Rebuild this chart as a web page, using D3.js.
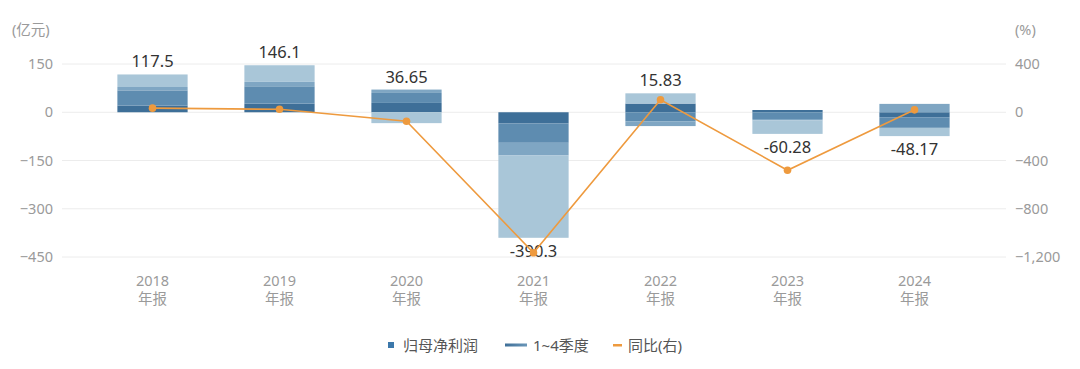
<!DOCTYPE html>
<html><head><meta charset="utf-8">
<script src="https://cdn.jsdelivr.net/npm/d3@7"></script>
<style>
html,body{margin:0;padding:0;background:#fff;}
svg{display:block;font-family:"Noto Sans","Noto Sans CJK SC",sans-serif;}
</style></head>
<body><svg id="c" width="1080" height="369"></svg>
<script>
const years = ["2018","2019","2020","2021","2022","2023","2024"];
const periodLabel = "年报";
const q1 = [21, 27, 29, -35, 27, 7, -15.5];
const q2 = [47, 53.7, 31, -60, -28, -21, -33];
const q3 = [10.5, 13.7, 10.5, -39.4, -15, -4.5, 26];
const q4 = [39, 51.7, -33.85, -255.9, 31.83, -41.78, -25.67];
const totals = [117.5, 146.1, 36.65, -390.3, 15.83, -60.28, -48.17];
const totalLabels = ["117.5","146.1","36.65","-390.3","15.83","-60.28","-48.17"];
const yoy = [33.8, 24.3, -74.9, -1165, 104.1, -480.8, 20.1];
const leftTicks = [150, 0, -150, -300, -450];
const rightTicks = [400, 0, -400, -800, -1200];
const quarterColors = ["#3e6f98", "#5e8cb0", "#7fa6c3", "#a9c6d8"];
const lineColor = "#ee9a3e";

const svg = d3.select("#c");
const x = d3.scaleBand().domain(years).range([89, 978]).paddingInner(0.447).paddingOuter(0.2235);
const y = d3.scaleLinear().domain([-450, 150]).range([257, 64]);
const y2 = d3.scaleLinear().domain([-1200, 400]).range([257, 64]);

// grid
svg.append("g").selectAll("line").data(leftTicks).join("line")
  .attr("x1", 62).attr("x2", 1006)
  .attr("y1", d => y(d)).attr("y2", d => y(d))
  .attr("stroke", "#ececec").attr("stroke-width", 1);

// left axis
const gl = svg.append("g").attr("transform", "translate(53,0)")
  .call(d3.axisLeft(y).tickValues(leftTicks).tickSize(0).tickPadding(0).tickFormat(d3.format("d")));
gl.select(".domain").remove();
gl.selectAll("text").attr("fill", "#9a9a9a").style("font-size", "14.5px")
  .style("font-family", '"Noto Sans","Noto Sans CJK SC",sans-serif');

const gr = svg.append("g").attr("transform", "translate(1015,0)")
  .call(d3.axisRight(y2).tickValues(rightTicks).tickSize(0).tickPadding(0).tickFormat(d3.format(",")));
gr.select(".domain").remove();
gr.selectAll("text").attr("fill", "#9a9a9a").style("font-size", "14.5px")
  .style("font-family", '"Noto Sans","Noto Sans CJK SC",sans-serif');

svg.append("text").attr("x", 12).attr("y", 35).attr("fill", "#9a9a9a")
  .style("font-size", "14.5px").text("(亿元)");
svg.append("text").attr("x", 1015).attr("y", 35).attr("fill", "#9a9a9a")
  .style("font-size", "14.5px").text("(%)");

// x axis labels
const gx = svg.append("g").attr("transform", "translate(0,279)")
  .call(d3.axisBottom(x).tickSize(0).tickPadding(0));
gx.select(".domain").remove();
gx.selectAll("text").attr("fill", "#9a9a9a").style("font-size", "14.5px")
  .style("font-family", '"Noto Sans","Noto Sans CJK SC",sans-serif')
  .attr("dy", "0.5em")
  .each(function(){
    const t = d3.select(this); const yr = t.text(); t.text(null);
    t.append("tspan").attr("x", 0).text(yr);
    t.append("tspan").attr("x", 0).attr("dy", "1.25em").text(periodLabel);
  });

// stacked bars
const rows = years.map((yr, i) => ({year: yr, q1: q1[i], q2: q2[i], q3: q3[i], q4: q4[i]}));
const stack = d3.stack().keys(["q1","q2","q3","q4"]).offset(d3.stackOffsetDiverging);
const series = stack(rows);
svg.append("g").selectAll("g").data(series).join("g")
  .attr("fill", (d, i) => quarterColors[i])
  .selectAll("rect").data(d => d).join("rect")
  .attr("x", d => x(d.data.year))
  .attr("width", x.bandwidth())
  .attr("y", d => y(Math.max(d[0], d[1])))
  .attr("height", d => Math.abs(y(d[0]) - y(d[1])));

// value labels
const extents = rows.map(r => {
  const v = [r.q1, r.q2, r.q3, r.q4];
  return {pos: d3.sum(v.filter(a => a > 0)), neg: d3.sum(v.filter(a => a < 0))};
});
svg.append("g").selectAll("text").data(years).join("text")
  .attr("x", d => x(d) + x.bandwidth() / 2)
  .attr("y", (d, i) => totals[i] >= 0 ? y(extents[i].pos) - 7 : y(extents[i].neg) + 19)
  .attr("text-anchor", "middle").attr("fill", "#333").style("font-size", "16.5px")
  .text((d, i) => totalLabels[i]);

// yoy line
const line = d3.line().x((d, i) => x(years[i]) + x.bandwidth() / 2).y(d => y2(d));
svg.append("path").datum(yoy).attr("d", line).attr("fill", "none")
  .attr("stroke", lineColor).attr("stroke-width", 1.6);
svg.append("g").selectAll("circle").data(yoy).join("circle")
  .attr("cx", (d, i) => x(years[i]) + x.bandwidth() / 2).attr("cy", d => y2(d))
  .attr("r", 3.8).attr("fill", lineColor);

// legend
const lg = svg.append("g");
lg.append("rect").attr("x", 388).attr("y", 342).attr("width", 6).attr("height", 6).attr("fill", "#3c78ab");
lg.append("text").attr("x", 403).attr("y", 350.5).attr("fill", "#555").style("font-size", "15px").text("归母净利润");
const grad = svg.append("defs").append("linearGradient").attr("id", "lgq");
grad.append("stop").attr("offset", "0%").attr("stop-color", "#3e6f98");
grad.append("stop").attr("offset", "100%").attr("stop-color", "#6a96b8");
lg.append("rect").attr("x", 505).attr("y", 343.5).attr("width", 22).attr("height", 3).attr("fill", "url(#lgq)");
lg.append("text").attr("x", 533).attr("y", 350.5).attr("fill", "#555").style("font-size", "15px").text("1~4季度");
lg.append("rect").attr("x", 613).attr("y", 344).attr("width", 9).attr("height", 2.5).attr("fill", lineColor);
lg.append("text").attr("x", 628).attr("y", 350.5).attr("fill", "#555").style("font-size", "15px").text("同比(右)");
</script></body></html>
